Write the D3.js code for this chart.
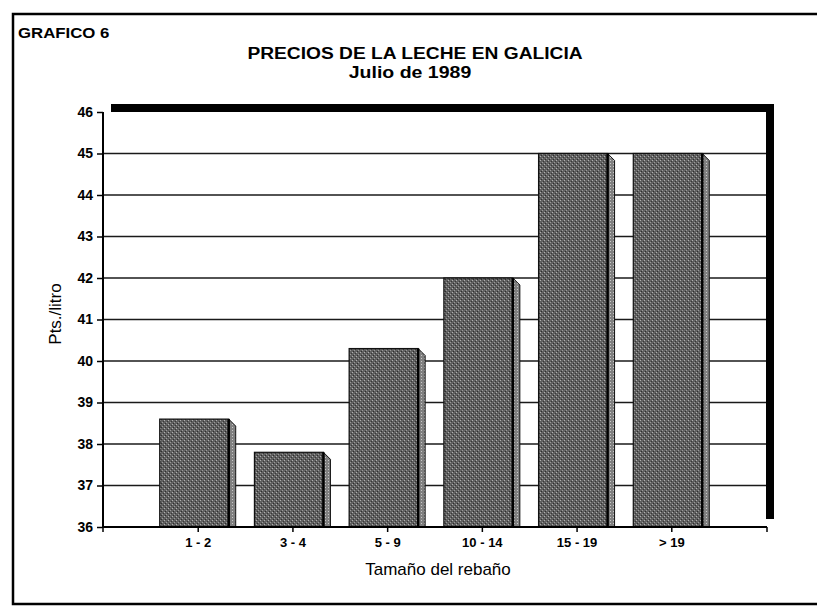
<!DOCTYPE html>
<html>
<head>
<meta charset="utf-8">
<script src="https://cdn.jsdelivr.net/npm/d3@7"></script>
<style>
  body { margin: 0; background: #fff; }
  svg { display: block; font-family: 'Liberation Sans', Arial, sans-serif; }
</style>
</head>
<body>
<svg id="chart"></svg>
<script>
// data
const categories = ['1 - 2', '3 - 4', '5 - 9', '10 - 14', '15 - 19', '> 19']
const prices = [38.6, 37.8, 40.3, 42.0, 45.0, 45.0]
const yTicks = [36, 37, 38, 39, 40, 41, 42, 43, 44, 45, 46]

const width = 817
const height = 606

const svg = d3.select('#chart').attr('width', width).attr('height', height)

svg.append('rect').attr('width', width).attr('height', height).attr('fill', '#fff')

// halftone-ish fill for the bars
const defs = svg.append('defs')
const pat = defs
  .append('pattern')
  .attr('id', 'screen')
  .attr('width', 4)
  .attr('height', 4)
  .attr('patternUnits', 'userSpaceOnUse')
pat.append('rect').attr('width', 4).attr('height', 4).attr('fill', '#606060')
pat.append('rect').attr('x', 0).attr('y', 0).attr('width', 1).attr('height', 1).attr('fill', '#b0b0b0')
pat.append('rect').attr('x', 2).attr('y', 2).attr('width', 1).attr('height', 1).attr('fill', '#9a9a9a')
pat.append('rect').attr('x', 1).attr('y', 3).attr('width', 1).attr('height', 1).attr('fill', '#2e2e2e')
pat.append('rect').attr('x', 3).attr('y', 1).attr('width', 1).attr('height', 1).attr('fill', '#383838')

const sidePat = defs
  .append('pattern')
  .attr('id', 'screenSide')
  .attr('width', 3)
  .attr('height', 3)
  .attr('patternUnits', 'userSpaceOnUse')
sidePat.append('rect').attr('width', 3).attr('height', 3).attr('fill', '#808080')
sidePat.append('rect').attr('x', 1).attr('y', 1).attr('width', 1).attr('height', 1).attr('fill', '#c8c8c8')

// --------------------------------------------------------------
// page frame (right side is cut off in the scan)
svg
  .append('path')
  .attr('d', 'M817,14 H13 V604 H817')
  .attr('fill', 'none')
  .attr('stroke', '#000')
  .attr('stroke-width', 2.5)

// --------------------------------------------------------------
// scales
const plot = { left: 103, right: 766, top: 112, bottom: 527 }

const x = d3
  .scalePoint()
  .domain(categories)
  .range([plot.left, plot.right])
  .padding(1)

const y = d3.scaleLinear().domain([36, 46]).range([plot.bottom, plot.top])

// plot box with its black drop shadow (up and to the right)
const shadow = 8
svg
  .append('rect')
  .attr('x', plot.left + shadow)
  .attr('y', plot.top - shadow)
  .attr('width', plot.right - plot.left)
  .attr('height', plot.bottom - plot.top)
  .attr('fill', '#000')
svg
  .append('rect')
  .attr('x', plot.left)
  .attr('y', plot.top)
  .attr('width', plot.right - plot.left)
  .attr('height', plot.bottom - plot.top)
  .attr('fill', '#fff')

// gridlines
svg
  .append('g')
  .attr('class', 'grid')
  .selectAll('line')
  .data(yTicks.filter((d) => d > 36 && d < 46))
  .join('line')
  .attr('x1', plot.left)
  .attr('x2', plot.right)
  .attr('y1', (d) => y(d))
  .attr('y2', (d) => y(d))
  .attr('stroke', '#1a1a1a')
  .attr('stroke-width', 1.3)

// --------------------------------------------------------------
// bars: front face + narrow bevelled side face
const barW = 76
const depth = 7
const bars = svg
  .append('g')
  .attr('class', 'bars')
  .selectAll('g')
  .data(categories.map((c, i) => ({ cat: c, value: prices[i] })))
  .join('g')

bars
  .append('path')
  .attr('d', (d) => {
    const xr = x(d.cat) + barW / 2 - depth
    const top = y(d.value)
    return `M${xr},${top} L${xr + depth},${top + depth} L${xr + depth},${y(36)} L${xr},${y(36)} Z`
  })
  .attr('fill', 'url(#screenSide)')
  .attr('stroke', '#111')
  .attr('stroke-width', 1)

bars
  .append('rect')
  .attr('x', (d) => x(d.cat) - barW / 2)
  .attr('y', (d) => y(d.value))
  .attr('width', barW - depth)
  .attr('height', (d) => y(36) - y(d.value))
  .attr('fill', 'url(#screen)')
  .attr('stroke', '#111')
  .attr('stroke-width', 1.2)

// darker right edge of the front face
bars
  .append('line')
  .attr('x1', (d) => x(d.cat) + barW / 2 - depth)
  .attr('x2', (d) => x(d.cat) + barW / 2 - depth)
  .attr('y1', (d) => y(d.value))
  .attr('y2', y(36))
  .attr('stroke', '#000')
  .attr('stroke-width', 2.5)

// --------------------------------------------------------------
// axes
const yAxis = svg
  .append('g')
  .attr('transform', `translate(${plot.left},0)`)
  .call(d3.axisLeft(y).tickValues(yTicks).tickSize(6).tickPadding(4))
yAxis.select('.domain').attr('stroke-width', 2).attr('d', `M0,${plot.top}V${plot.bottom}`)
yAxis.selectAll('.tick line').attr('stroke-width', 1.5)
yAxis
  .selectAll('text')
  .attr('font-family', "'Liberation Sans', Arial, sans-serif")
  .attr('font-size', 14)
  .attr('font-weight', 'bold')
  .attr('fill', '#000')

const xAxis = svg
  .append('g')
  .attr('transform', `translate(0,${plot.bottom})`)
  .call(d3.axisBottom(x).tickSize(5).tickPadding(6))
xAxis.select('.domain').attr('stroke-width', 2.2).attr('d', `M${plot.left},0H${plot.right + 1}`)
xAxis.selectAll('.tick line').attr('stroke-width', 1.5)
xAxis
  .selectAll('text')
  .attr('font-family', "'Liberation Sans', Arial, sans-serif")
  .attr('font-size', 13)
  .attr('font-weight', 'bold')
  .attr('fill', '#000')
// end ticks on the x axis
xAxis
  .selectAll('.endTick')
  .data([plot.left, plot.right + 1])
  .join('line')
  .attr('x1', (d) => d)
  .attr('x2', (d) => d)
  .attr('y1', 0)
  .attr('y2', 5)
  .attr('stroke', '#000')
  .attr('stroke-width', 1.5)

// --------------------------------------------------------------
// titles (the original lettering is wider than Arial, so stretch it a bit)
const stretchText = function ({ text, cx, baseline, size, weight = 'bold', sx = 1, anchor = 'middle' }) {
  return svg
    .append('text')
    .attr('transform', `translate(${cx},${baseline}) scale(${sx},1)`)
    .attr('text-anchor', anchor)
    .attr('font-size', size)
    .attr('font-weight', weight)
    .attr('fill', '#000')
    .text(text)
}

stretchText({ text: 'GRAFICO 6', cx: 18, baseline: 38, size: 15, sx: 1.12, anchor: 'start' })
stretchText({ text: 'PRECIOS DE LA LECHE EN GALICIA', cx: 415, baseline: 59, size: 17, sx: 1.13 })
stretchText({ text: 'Julio de 1989', cx: 410, baseline: 78, size: 16, sx: 1.22 })

svg
  .append('text')
  .attr('x', 438)
  .attr('y', 575)
  .attr('text-anchor', 'middle')
  .attr('font-size', 17)
  .attr('fill', '#000')
  .text('Tamaño del rebaño')

svg
  .append('text')
  .attr('transform', 'translate(61,314) rotate(-90)')
  .attr('text-anchor', 'middle')
  .attr('font-size', 17)
  .attr('fill', '#000')
  .text('Pts./litro')
</script>
</body>
</html>
